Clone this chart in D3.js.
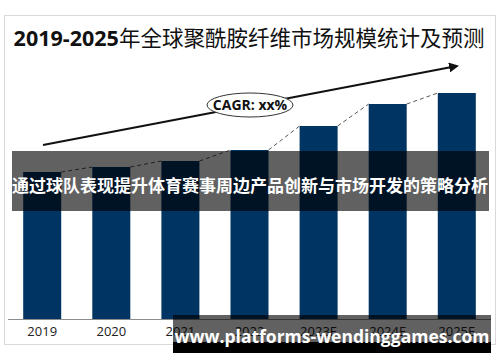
<!DOCTYPE html>
<html>
<head>
<meta charset="utf-8">
<script src="https://cdn.jsdelivr.net/npm/d3@7"></script>
<style>
  body { margin: 0; background: #fff; }
  svg { display: block; font-family: "Open Sans", "Noto Sans CJK SC", sans-serif; }
</style>
</head>
<body>
<div id="chart"></div>
<script>
'use strict';
const years = ["2019", "2020", "2021", "2022", "2023E", "2024E", "2025E"];
const marketSize = [147, 152, 158, 169, 193, 215, 226];

const titleNum = "2019-2025";
const titleCn = "年全球聚酰胺纤维市场规模统计及预测";
const cagrLabel = "CAGR: xx%";
const bannerText = "通过球队表现提升体育赛事周边产品创新与市场开发的策略分析";
const siteText = "www.platforms-wendinggames.com";

const W = 500, H = 362;
const svg = d3.select("#chart").append("svg")
    .attr("width", W)
    .attr("height", H);

// card frame
svg.append("rect")
    .attr("x", 4.5).attr("y", 15.5)
    .attr("width", 491).attr("height", 329)
    .attr("fill", "#fff")
    .attr("stroke", "#d9d9d9");

// title
let title = svg.append("text")
    .attr("x", 249).attr("y", 46)
    .attr("text-anchor", "middle")
    .style("font-size", "21.5px")
    .attr("fill", "#111");
title.append("tspan").text(titleNum)
    .style("font-weight", "bold")
    .style("font-family", "'Open Sans', sans-serif");
title.append("tspan").text(titleCn)
    .style("font-family", "'Noto Sans CJK SC', sans-serif")
    .style("font-weight", "normal");

// scales
const x = d3.scaleBand()
    .domain(years)
    .range([8, 491])
    .paddingInner(0.45)
    .paddingOuter(0.22);

const y = d3.scaleLinear()
    .domain([0, d3.max(marketSize)])
    .range([319, 93]);

// bars
svg.selectAll(".bar").data(marketSize).enter()
    .append("rect")
    .attr("class", "bar")
    .attr("x", function (d, i) { return x(years[i]); })
    .attr("y", function (d) { return y(d); })
    .attr("width", x.bandwidth())
    .attr("height", function (d) { return y(0) - y(d); })
    .attr("fill", "#003462");

// dashed connectors between bar tops
const links = d3.pairs(marketSize.map(function (d, i) { return { year: years[i], v: d }; }));
svg.selectAll(".link").data(links).enter()
    .append("line")
    .attr("class", "link")
    .attr("x1", function (p) { return x(p[0].year) + x.bandwidth(); })
    .attr("y1", function (p) { return y(p[0].v); })
    .attr("x2", function (p) { return x(p[1].year); })
    .attr("y2", function (p) { return y(p[1].v); })
    .attr("stroke", "#555")
    .attr("stroke-width", 1)
    .attr("stroke-dasharray", "4,3");

// x axis
const xAxis = svg.append("g")
    .attr("transform", "translate(0," + y(0) + ")")
    .call(d3.axisBottom(x).tickSize(0).tickPadding(8));
xAxis.select(".domain")
    .attr("d", "M8,0.5H491")
    .attr("stroke", "#8c8c8c");
xAxis.selectAll("text")
    .style("font-size", "13px")
    .style("font-family", "'Open Sans', sans-serif")
    .attr("fill", "#222");

// growth arrow
svg.append("defs").append("marker")
    .attr("id", "arrowhead")
    .attr("viewBox", "0 0 10 10")
    .attr("refX", 8).attr("refY", 5)
    .attr("markerWidth", 5).attr("markerHeight", 5)
    .attr("orient", "auto")
    .append("path")
    .attr("d", "M0,0L10,5L0,10z")
    .attr("fill", "#111");

svg.append("line")
    .attr("x1", 43).attr("y1", 145)
    .attr("x2", 457).attr("y2", 66)
    .attr("stroke", "#111")
    .attr("stroke-width", 2)
    .attr("marker-end", "url(#arrowhead)");

// CAGR bubble
svg.append("ellipse")
    .attr("cx", 250).attr("cy", 105)
    .attr("rx", 43).attr("ry", 12)
    .attr("fill", "#fff")
    .attr("stroke", "#333")
    .attr("stroke-width", 1);
svg.append("text")
    .attr("x", 250).attr("y", 110)
    .attr("text-anchor", "middle")
    .style("font-size", "14px")
    .style("font-weight", "bold")
    .attr("fill", "#111")
    .text(cagrLabel);

// overlay banner
svg.append("rect")
    .attr("x", 12).attr("y", 151)
    .attr("width", 477).attr("height", 60)
    .attr("fill", "#000")
    .attr("fill-opacity", 0.62);
svg.append("text")
    .attr("x", 250).attr("y", 192)
    .attr("text-anchor", "middle")
    .style("font-family", "'Noto Sans CJK SC', sans-serif")
    .style("font-size", "17px")
    .style("font-weight", "bold")
    .attr("fill", "#fff")
    .text(bannerText);

// site watermark
svg.append("rect")
    .attr("x", 173).attr("y", 315)
    .attr("width", 318).attr("height", 38)
    .attr("fill", "#000")
    .attr("fill-opacity", 0.62);
svg.append("rect")
    .attr("x", 173).attr("y", 342)
    .attr("width", 318).attr("height", 11)
    .attr("fill", "#000");
svg.append("text")
    .attr("x", 332).attr("y", 343)
    .attr("text-anchor", "middle")
    .style("font-family", "'Open Sans', sans-serif")
    .style("font-size", "17.5px")
    .style("font-weight", "bold")
    .attr("fill", "#fff")
    .text(siteText);
</script>
</body>
</html>
